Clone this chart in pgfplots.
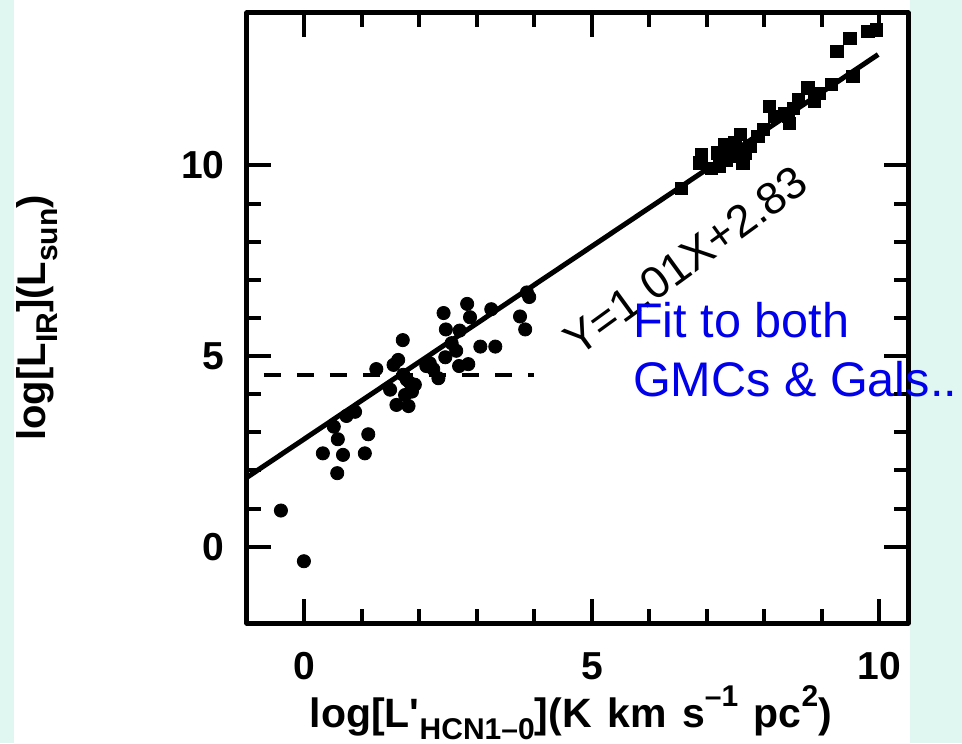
\documentclass[border=0pt]{standalone}
\usepackage{fontspec}
\setmainfont{Liberation Sans}
\usepackage{pgfplots}
\pgfplotsset{compat=1.18}
\definecolor{mint}{RGB}{224,246,240}
\definecolor{fitblue}{RGB}{0,0,235}
\newcommand{\lo}[1]{\raisebox{-0.3em}{\fontsize{15}{15}\selectfont #1}}
\newcommand{\hi}[1]{\raisebox{0.5em}{\fontsize{15}{15}\selectfont #1}}

\begin{document}
\begin{tikzpicture}
\path[use as bounding box, fill=mint] (-123.5pt,-60pt) rectangle (357.5pt,311.5pt);
\fill[white] (-116.5pt,-60pt) rectangle (331.5pt,311.5pt);
\begin{axis}[
    at={(0,0)}, anchor=south west,
    scale only axis, width=330.5pt, height=305pt,
    xmin=-1, xmax=10.5, ymin=-2, ymax=14,
    xtick={0,5,10}, ytick={0,5,10}, minor tick num=4,
    tick align=inside, tick pos=both,
    xticklabel pos=lower, yticklabel pos=left,
    major tick length=12pt, minor tick length=7pt,
    every tick/.style={black, line width=2pt},
    axis line style={line width=2.5pt, line join=round},
    /pgf/number format/assume math mode=true,
    ticklabel style={font=\fontsize{19.5}{20}\selectfont\bfseries},
    yticklabel style={inner xsep=0pt, xshift=-11pt},
    xticklabel style={inner ysep=0pt, yshift=-14.5pt},
    xlabel={log[L\textquotesingle\lo{HCN1--0}](K\hspace{0.38em}km\hspace{0.38em}s\hi{--1}\hspace{0.38em}pc\hi{2})},
    xlabel style={at={(rel axis cs:0.49,-0.171)}, anchor=base,
        font=\fontsize{20.5}{21}\selectfont\bfseries},
    ylabel={log[L\lo{IR}](L\lo{sun})},
    ylabel style={at={(rel axis cs:-0.318,0.5)}, anchor=center,
        font=\fontsize{20}{21}\selectfont\bfseries},
    clip=false,
]

% fit line
\addplot[no marks, black, line width=2.5pt] coordinates {(-1,1.82) (9.98,12.91)};

% dashed threshold
\addplot[no marks, black, line width=2pt, dash pattern=on 8.5pt off 8pt, dash phase=8pt]
    coordinates {(-1,4.5) (4,4.5)};

% GMCs
\addplot[only marks, mark=*, mark size=3.3pt, black] coordinates {
    (-0.41,0.95) (-0.01,-0.38) (0.32,2.45) (0.57,1.93) (0.67,2.41)
    (0.58,2.82) (0.51,3.15) (1.05,2.45) (1.11,2.95) (0.73,3.43)
    (0.88,3.54) (1.25,4.66) (1.55,4.77) (1.63,4.90) (1.71,5.42)
    (1.49,4.12) (1.60,3.72) (1.81,3.69) (1.75,3.98) (1.87,4.07)
    (1.92,4.25) (1.78,4.38) (1.72,4.51) (1.84,4.29) (2.12,4.74)
    (2.24,4.66) (2.33,4.42) (2.45,4.97) (2.42,6.13) (2.46,5.70)
    (2.70,5.67) (2.83,6.37) (2.88,6.02) (2.56,5.34) (2.64,5.14)
    (2.69,4.74) (2.85,4.79) (3.06,5.25) (3.32,5.25) (3.25,6.23)
    (3.75,6.04) (3.84,5.70) (3.91,6.55) (3.87,6.67) (2.18,4.81)
};

% galaxies
\addplot[only marks, mark=square*, mark size=3.1pt, black] coordinates {
    (9.26,12.99) (9.49,13.34) (9.80,13.51) (9.95,13.56) (9.54,12.34)
    (9.17,12.12) (8.76,12.03) (8.96,11.89) (8.87,11.68) (8.59,11.72)
    (8.51,11.50) (8.42,11.28) (8.44,11.11) (8.36,11.37) (8.09,11.55)
    (8.18,11.28) (7.98,10.94) (7.89,10.76) (7.75,10.50) (7.58,10.81)
    (7.66,10.33) (7.49,10.59) (7.40,10.41) (7.31,10.54) (7.52,10.24)
    (7.34,10.15) (7.22,9.98) (7.19,10.33) (7.63,10.07) (6.91,10.28)
    (6.88,10.07) (7.08,9.93) (6.56,9.40)
};

\node[rotate=36, font=\fontsize{22.5}{24}\selectfont] at (axis cs:6.63,7.5) {Y=1.01X+2.83};
\node[anchor=base west, inner sep=0pt, text=fitblue, font=\fontsize{24.3}{26}\selectfont]
    at (axis cs:5.71,5.50) {Fit to both};
\node[anchor=base west, inner sep=0pt, text=fitblue, font=\fontsize{24.3}{26}\selectfont]
    at (axis cs:5.71,3.93) {GMCs \& Gals..};
\end{axis}
\end{tikzpicture}
\end{document}
